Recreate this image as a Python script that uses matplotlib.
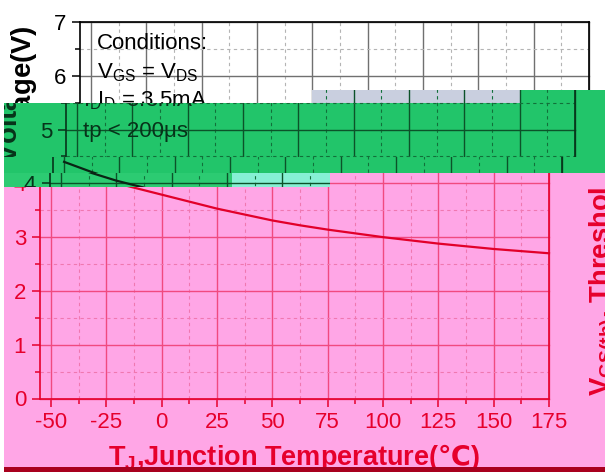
import matplotlib
matplotlib.use("Agg")
import matplotlib.pyplot as plt
from matplotlib.patches import Rectangle
from matplotlib.transforms import Bbox, TransformedBbox
from matplotlib.ticker import FixedLocator, MultipleLocator

plt.rcParams.update({
    "font.family": ["Liberation Sans", "DejaVu Sans"],
    "mathtext.fontset": "custom",
    "mathtext.rm": "Liberation Sans",
    "mathtext.sf": "DejaVu Sans:bold",   # only used for the degree-Celsius sign
    "mathtext.default": "regular",
    "axes.unicode_minus": False,
})

# V_GS(th) vs junction temperature
temp_c = [-50, -37.5, -25, -12.5, 0, 12.5, 25, 37.5, 50, 62.5, 75, 87.5,
          100, 112.5, 125, 137.5, 150, 162.5, 175]
vth_v = [4.40, 4.21, 4.05, 3.92, 3.79, 3.66, 3.53, 3.42, 3.31, 3.22, 3.14, 3.07,
         3.00, 2.94, 2.88, 2.83, 2.78, 2.74, 2.70]
x_ticks = [-50, -25, 0, 25, 50, 75, 100, 125, 150, 175]
y_ticks = [0, 1, 2, 3, 4, 5, 6, 7]
conditions = ["Conditions:", r"V$_{GS}$ = V$_{DS}$", r"I$_{D}$ = 3.5mA", "tp < 200μs"]
cond_y = [0.928, 0.851, 0.777, 0.695]   # baselines, axes fraction
x_label = r"T$_{J}$,Junction Temperature($\mathsf{℃}$)"
y_label = r"V$_{GS(th)}$, Threshold Voltage(V)"

W, H = 605, 472
AX = (80, 22, 589, 398.5)   # left, top, right, bottom of the plot box in px

STYLES = {
    "plain": dict(fg="black", major="#707070", minor="#b4b4b4", curve="#111111"),
    "green": dict(fg="#07331a", major="#0c5229", minor="#12703a", curve="#0a2414"),
    "pink":  dict(fg="#e6002c", major="#f04a80", minor="#f078b0", curve="#e2002a"),
}

# glitch bands: style, horizontal shift (px), clip rect x0, y0, x1, y1 (px from top-left)
BANDS = [
    ("plain", 0, 0, 0, 605, 90),
    ("plain", 0, 0, 90, 312, 103),
    ("green", -14, 312, 90, 605, 103),
    ("green", -14, 4, 103, 605, 157),
    ("green", -27, 4, 157, 605, 173),
    ("green", -30, 4, 173, 330, 187),
    ("pink", -40, 330, 173, 605, 187),
    ("pink", -40, 4, 187, 605, 467),
    ("pink", 578, 4, 187, 605, 467),
]
# flat background blocks: x0, y0, x1, y1, colour
BACKS = [
    (312, 90, 520, 103, "#c9cfdf"),
    (520, 90, 605, 103, "#22c56a"),
    (4, 103, 605, 173, "#22c56a"),
    (4, 173, 232, 187, "#2ccb72"),
    (232, 173, 330, 187, "#86f0d4"),
    (330, 173, 605, 187, "#ffa6e6"),
    (4, 187, 605, 467, "#ffa6e6"),
    (4, 467, 605, 472, "#a8001e"),
]


def px_box(x0, y0, x1, y1):
    return Bbox.from_extents(x0 / W, 1 - y1 / H, x1 / W, 1 - y0 / H)


def draw_layer(fig, style, dx):
    s = STYLES[style]
    l, t, r, b = AX
    ax = fig.add_axes([(l + dx) / W, 1 - b / H, (r - l) / W, (b - t) / H])
    ax.set_facecolor("none")
    ax.set_xlim(-55, 175); ax.set_ylim(0, 7)
    ax.xaxis.set_major_locator(FixedLocator(x_ticks))
    ax.xaxis.set_minor_locator(MultipleLocator(12.5))
    ax.yaxis.set_major_locator(FixedLocator(y_ticks))
    ax.yaxis.set_minor_locator(MultipleLocator(0.5))
    ax.grid(which="minor", color=s["minor"], lw=0.8, ls=(0, (3, 3)))
    ax.grid(which="major", color=s["major"], lw=1.0, ls="-")
    ax.set_axisbelow(True)
    ax.plot(temp_c, vth_v, color=s["curve"], lw=1.6, zorder=3)
    for sp in ax.spines.values():
        sp.set_color(s["fg"]); sp.set_linewidth(1.2)
    ax.tick_params(which="both", direction="out", colors=s["fg"], labelsize=16, width=1.1)
    ax.tick_params(which="major", length=6, pad=4)
    ax.tick_params(which="minor", length=3.5)
    ax.set_xlabel(x_label, fontsize=19.5, fontweight="bold", color=s["fg"])
    ax.set_ylabel(y_label, fontsize=19.8, fontweight="bold", color=s["fg"])
    ax.xaxis.set_label_coords(0.5, -0.115)
    ax.yaxis.set_label_coords(-0.074, 0.5)
    for txt, yy in zip(conditions, cond_y):
        ax.text(0.033, yy, txt, transform=ax.transAxes, fontsize=16, color=s["fg"], va="baseline")
    return ax


fig = plt.figure(figsize=(W / 100, H / 100), dpi=100, facecolor="white")
for x0, y0, x1, y1, c in BACKS:
    fig.add_artist(Rectangle((x0 / W, 1 - y1 / H), (x1 - x0) / W, (y1 - y0) / H,
                             transform=fig.transFigure, color=c, lw=0, zorder=-5))

layers = []
for style, dx, x0, y0, x1, y1 in BANDS:
    layers.append((draw_layer(fig, style, dx), px_box(x0, y0, x1, y1)))

fig.canvas.draw()   # make sure every tick exists before clipping
for ax, box in layers:
    clip = TransformedBbox(box, fig.transFigure)
    for a in ax.findobj():
        if a is ax:
            continue
        a.set_clip_box(clip)
        a.set_clip_on(True)

fig.savefig("out.png", dpi=100, facecolor="white")
